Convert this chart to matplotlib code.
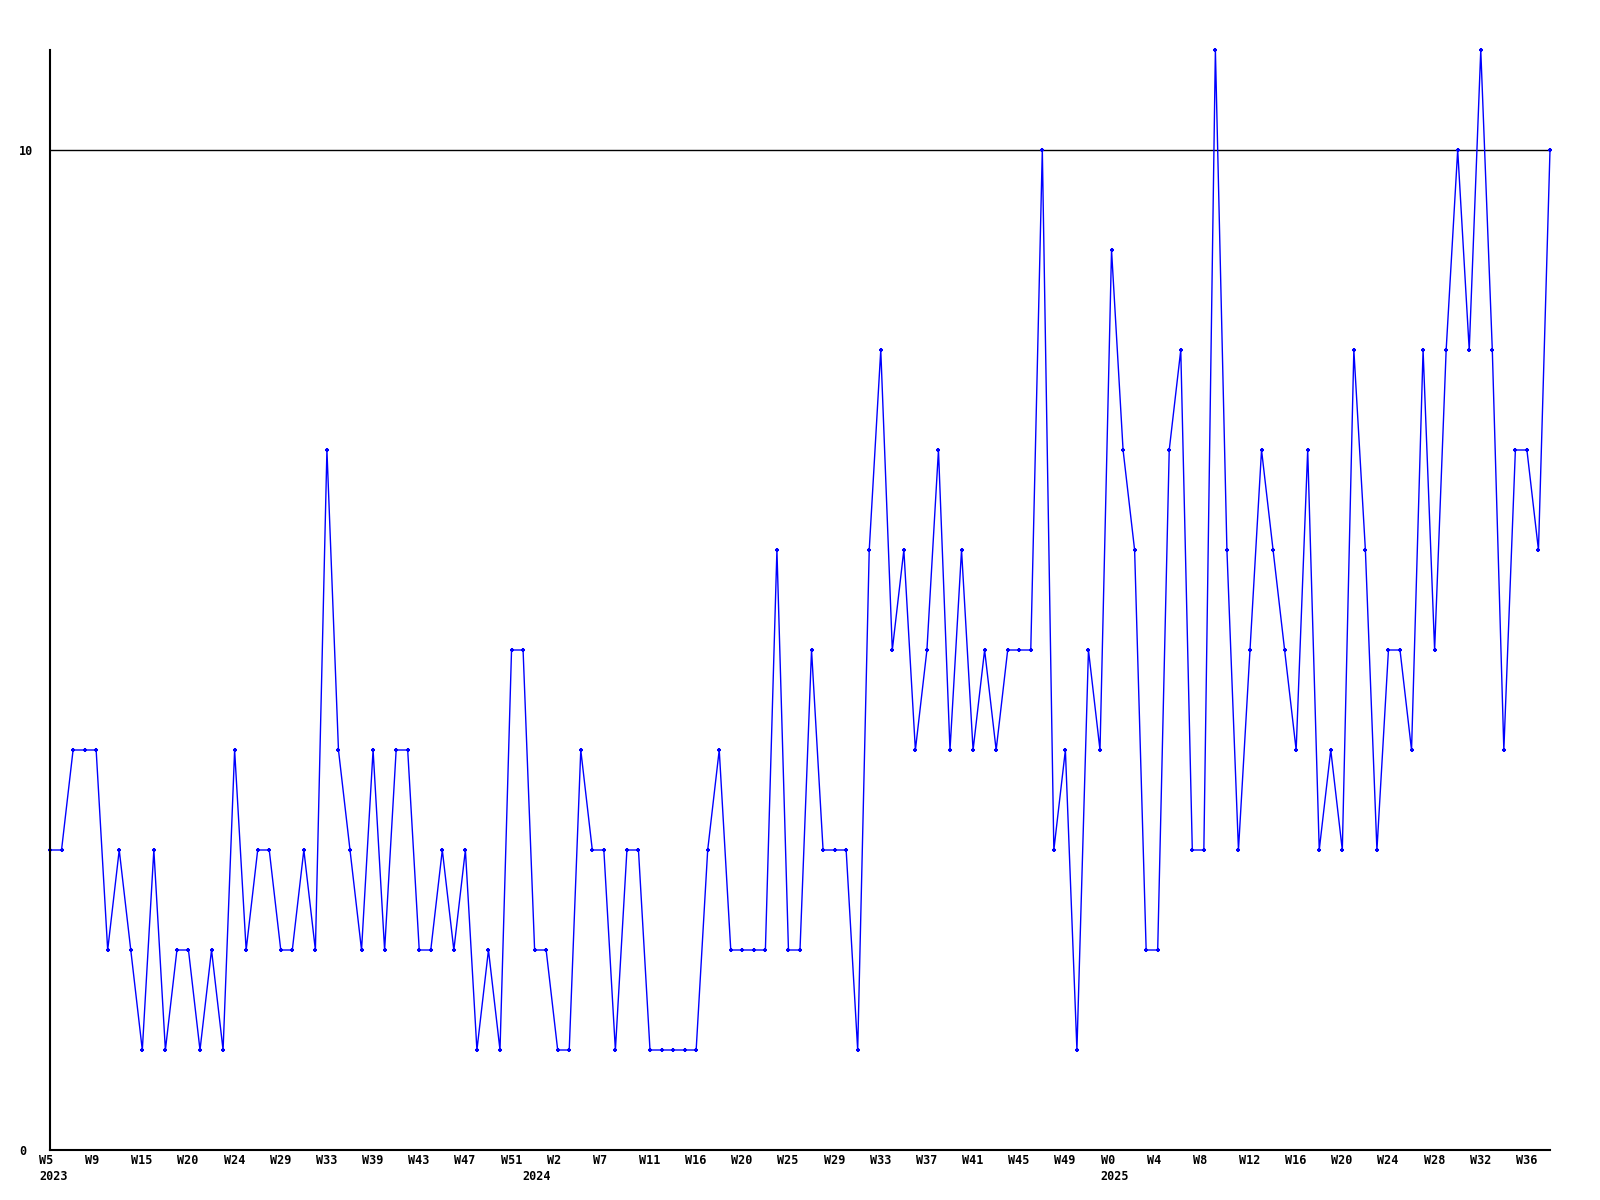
# ─────────────────────────────────────────────────────────
# plot.py
# Wochenwerte 2023 W5 bis 2025 W37 als Linie mit Punkten
# ─────────────────────────────────────────────────────────

import matplotlib
matplotlib.use("Agg")
import matplotlib.pyplot as plt
from matplotlib.transforms import ScaledTranslation


# ══════════════════════════════════════════════════════════
# DATEN
# ══════════════════════════════════════════════════════════

werte = [3, 3, 4, 4, 4, 2, 3, 2, 1, 3,
         1, 2, 2, 1, 2, 1, 4, 2, 3, 3,
         2, 2, 3, 2, 7, 4, 3, 2, 4, 2,
         4, 4, 2, 2, 3, 2, 3, 1, 2, 1,
         5, 5, 2, 2, 1, 1, 4, 3, 3, 1,
         3, 3, 1, 1, 1, 1, 1, 3, 4, 2,
         2, 2, 2, 6, 2, 2, 5, 3, 3, 3,
         1, 6, 8, 5, 6, 4, 5, 7, 4, 6,
         4, 5, 4, 5, 5, 5, 10, 3, 4, 1,
         5, 4, 9, 7, 6, 2, 2, 7, 8, 3,
         3, 11, 6, 3, 5, 7, 6, 5, 4, 7,
         3, 4, 3, 8, 6, 3, 5, 5, 4, 8,
         5, 8, 10, 8, 11, 8, 4, 7, 7, 6, 10]

wochen_labels = ["W5", "W9", "W15", "W20", "W24", "W29", "W33", "W39",
                 "W43", "W47", "W51", "W2", "W7", "W11", "W16", "W20",
                 "W25", "W29", "W33", "W37", "W41", "W45", "W49", "W0",
                 "W4", "W8", "W12", "W16", "W20", "W24", "W28", "W32",
                 "W36"]

jahre     = ["2023", "2024", "2025"]
jahre_pos = [0, 41.9, 92]     # Index der Woche, an der das Jahr steht

y_ticks  = [0, 10]
y_labels = ["0", "10"]

x        = list(range(len(werte)))
tick_pos = x[::4][:len(wochen_labels)]


# ══════════════════════════════════════════════════════════
# PLOT
# ══════════════════════════════════════════════════════════

schrift = dict(family="DejaVu Sans Mono", weight="bold", size=8.5)

fig = plt.figure(figsize=(16, 12), dpi=100)
ax  = fig.add_axes([50 / 1600, 50 / 1200, 1500 / 1600, 1100 / 1200])

ax.plot(x, werte, color="#0000ff", linewidth=1.0,
        marker="+", markersize=3.5, markeredgewidth=1.5, clip_on=False)

# Linie bei 10 (nur über den Datenbereich)
ax.hlines(10, x[0], x[-1], color="black", linewidth=1, zorder=0)

ax.set_xlim(0, len(werte) - 1)
ax.set_ylim(0, 11)

# ─── Achsen ───────────────────────────────────────────────
for seite in ["top", "right"]:
    ax.spines[seite].set_visible(False)
for seite in ["left", "bottom"]:
    ax.spines[seite].set_linewidth(1.5)
    ax.spines[seite].set_color("black")

ax.set_xticks(tick_pos)
ax.set_xticklabels(wochen_labels, **schrift)
ax.set_yticks(y_ticks)
ax.set_yticklabels(y_labels, **schrift)
ax.tick_params(axis="both", length=0, pad=2)

# Labels linksbündig verschieben (wie im Original)
for lbl in ax.get_xticklabels():
    lbl.set_horizontalalignment("left")
    lbl.set_transform(lbl.get_transform() +
                      ScaledTranslation(-11 / 100, -1 / 100, fig.dpi_scale_trans))
for lbl in ax.get_yticklabels():
    lbl.set_horizontalalignment("left")
    lbl.set_transform(lbl.get_transform() +
                      ScaledTranslation(-28 / 100, 0, fig.dpi_scale_trans))

# ─── Jahreszahlen ─────────────────────────────────────────
for jahr, pos in zip(jahre, jahre_pos):
    ax.text(pos, 0, jahr, ha="left", va="center",
            transform=ax.get_xaxis_transform() +
            ScaledTranslation(-11 / 100, -27 / 100, fig.dpi_scale_trans),
            **schrift)

plt.savefig("out.png", dpi=100)
